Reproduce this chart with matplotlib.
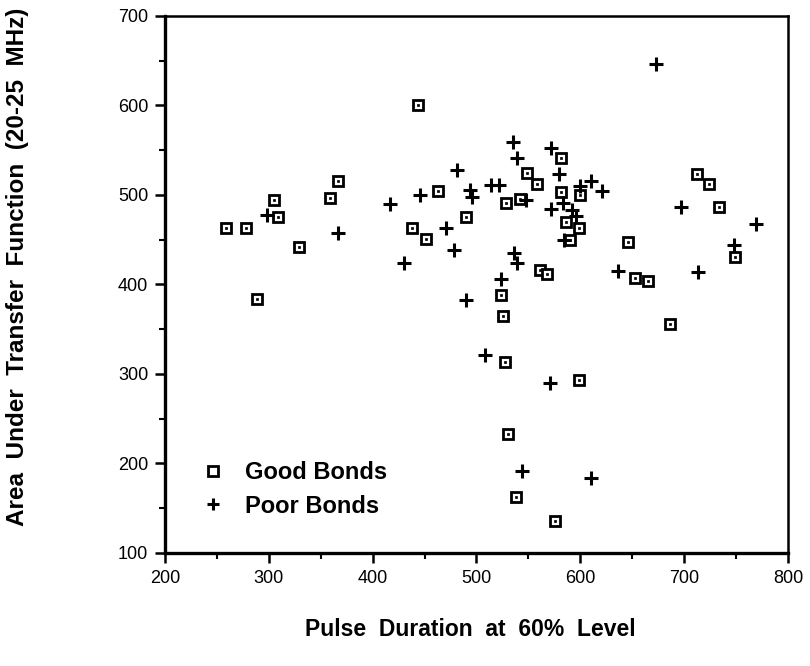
import matplotlib
matplotlib.use("Agg")
import matplotlib.pyplot as plt
from matplotlib.ticker import MultipleLocator

plt.rcParams['font.family'] = ['Liberation Sans', 'DejaVu Sans']

# Good bonds (square markers)
good_x = [259, 278, 289, 305, 309, 329, 359, 367, 438, 444, 451, 463, 490,
          524, 526, 527, 528, 530, 538, 542, 549, 558, 561, 568, 576, 581,
          581, 586, 590, 599, 600, 599, 646, 653, 665, 686, 712, 724, 734, 749]
good_y = [463, 463, 384, 494, 475, 442, 497, 516, 463, 600, 451, 504, 475,
          388, 365, 313, 491, 233, 162, 496, 525, 512, 416, 412, 136, 541,
          503, 470, 450, 463, 500, 293, 447, 407, 404, 356, 524, 512, 487, 431]

# Poor bonds (plus markers)
poor_x = [298, 367, 417, 430, 446, 471, 478, 481, 494, 496, 490, 508, 514,
          522, 524, 535, 539, 536, 539, 544, 548, 571, 572, 579, 572, 583,
          592, 596, 584, 600, 610, 621, 610, 636, 673, 697, 713, 748, 769]
poor_y = [478, 458, 490, 424, 500, 463, 439, 528, 506, 498, 383, 321, 511,
          511, 406, 559, 541, 435, 424, 192, 494, 290, 553, 523, 484, 491,
          483, 477, 450, 510, 516, 504, 184, 415, 646, 487, 414, 444, 468]

fig = plt.figure(figsize=(8.1, 6.66), dpi=100)
ax = fig.add_axes([0.2037, 0.1697, 0.7691, 0.8063])

ax.plot(good_x, good_y, ls='none', marker='s', ms=7.5, mfc='white',
        mec='black', mew=2.0, label='Good Bonds')
ax.plot(good_x, good_y, ls='none', marker='s', ms=1.6, mfc='black',
        mec='black', mew=0.5)
ax.plot(poor_x, poor_y, ls='none', marker='+', ms=9.5, mec='black',
        mew=2.2, label='Poor Bonds')

ax.set_xlim(200, 800)
ax.set_ylim(100, 700)
ax.xaxis.set_major_locator(MultipleLocator(100))
ax.xaxis.set_minor_locator(MultipleLocator(50))
ax.yaxis.set_major_locator(MultipleLocator(100))
ax.yaxis.set_minor_locator(MultipleLocator(50))
ax.tick_params(which='major', direction='out', length=7, width=1.8,
               labelsize=13, pad=5)
ax.tick_params(which='minor', direction='out', length=4, width=1.5)

for side in ['left', 'bottom']:
    ax.spines[side].set_linewidth(2.4)
for side in ['top', 'right']:
    ax.spines[side].set_linewidth(1.8)

ax.set_xlabel('Pulse  Duration  at  60%  Level', fontsize=16.5,
              fontweight='bold', va='center')
ax.xaxis.set_label_coords(0.49, -0.143)
ax.set_ylabel('Area  Under  Transfer  Function  (20-25  MHz)', fontsize=17.5,
              fontweight='bold', va='center')
ax.yaxis.set_label_coords(-0.237, 0.532)

leg = ax.legend(loc='lower left', bbox_to_anchor=(-0.018, 0.0), frameon=False,
                prop={'size': 17, 'weight': 'bold'}, handletextpad=0.35,
                labelspacing=0.45, borderpad=1.0, handlelength=2.0)
leg.legend_handles[0].set_markersize(6.5)
leg.legend_handles[1].set_markersize(8)

fig.savefig('out.png', dpi=100)
